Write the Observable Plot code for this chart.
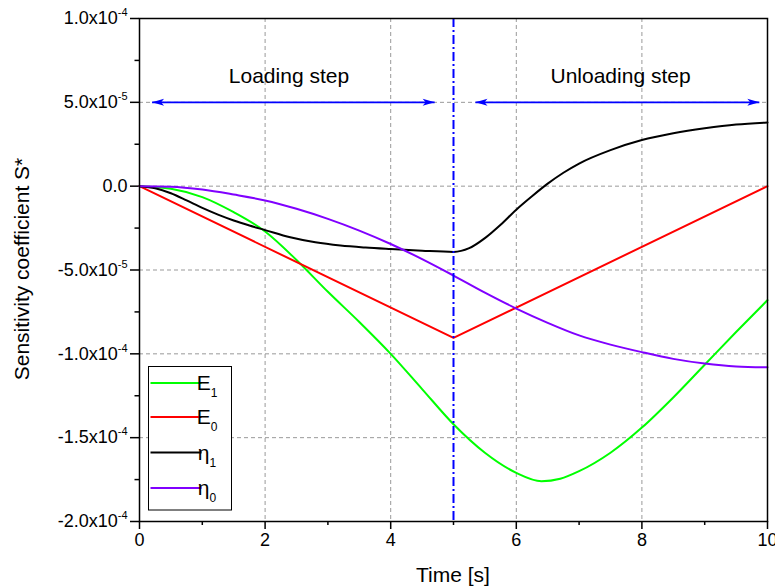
<!DOCTYPE html>
<html>
<head>
<meta charset="utf-8">
<script src="https://cdn.jsdelivr.net/npm/d3@7"></script>
<script src="https://cdn.jsdelivr.net/npm/@observablehq/plot@0.6"></script>
<style>
  body { margin: 0; background: #fff; }
  #chart svg { display: block; }
</style>
</head>
<body>
<div id="chart"></div>
<script>
// ---- data (y values in units of 1e-5) ----
const tE1 = [0, 0.5, 1, 1.5, 2, 2.5, 3, 3.5, 4, 4.5, 5, 5.5, 6, 6.4, 6.7, 7, 7.5, 8, 8.5, 9, 9.5, 10];
const vE1 = [0, -0.15, -0.65, -1.55, -2.7, -4.4, -6.3, -8.1, -10.0, -12.1, -14.2, -15.9, -17.1, -17.6, -17.45, -17.0, -15.9, -14.4, -12.6, -10.65, -8.7, -6.8];

const tE0 = [0, 5, 10];
const vE0 = [0, -9.05, 0];

const tEta1 = [0, 0.25, 0.5, 0.75, 1, 1.25, 1.5, 1.75, 2, 2.4, 2.8, 3.2, 3.6, 4, 4.5, 5, 5.25, 5.5, 5.75, 6, 6.25, 6.5, 6.75, 7, 7.5, 8, 8.5, 9, 9.5, 10];
const vEta1 = [0, -0.12, -0.42, -0.85, -1.3, -1.7, -2.05, -2.35, -2.62, -3.05, -3.35, -3.54, -3.66, -3.75, -3.85, -3.92, -3.7, -3.1, -2.3, -1.4, -0.6, 0.15, 0.8, 1.35, 2.15, 2.75, 3.15, 3.45, 3.68, 3.8];

const tEta0 = [0, 0.5, 1, 1.5, 2, 2.5, 3, 3.5, 4, 4.5, 5, 5.5, 6, 6.5, 7, 7.5, 8, 8.5, 9, 9.5, 10];
const vEta0 = [0, -0.03, -0.2, -0.5, -0.85, -1.35, -1.95, -2.65, -3.45, -4.35, -5.33, -6.35, -7.3, -8.15, -8.9, -9.45, -9.9, -10.3, -10.58, -10.75, -10.8];

const seriesNames = ["E", "E", "η", "η"];
const seriesSubs = ["1", "0", "1", "0"];
const seriesColors = ["#00ff00", "#ff0000", "#000000", "#8000ff"];
const seriesCurves = ["monotone-x", "linear", "monotone-x", "monotone-x"];
const seriesT = [tE1, tE0, tEta1, tEta0];
const seriesV = [vE1, vE0, vEta1, vEta0];

const xTicks = [0, 2, 4, 6, 8, 10];
const xMinor = [1, 3, 5, 7, 9];
const yTicks = [-20, -15, -10, -5, 0, 5, 10];
const yTickLabels = ["-2.0x10^-4", "-1.5x10^-4", "-1.0x10^-4", "-5.0x10^-5", "0.0", "5.0x10^-5", "1.0x10^-4"];
const yMinor = [-17.5, -12.5, -7.5, -2.5, 2.5, 7.5];
const xGrid = [2, 4, 6, 8];
const yGrid = [-15, -10, -5, 0, 5];

const stepTime = 5;
const arrowLevel = 5;
const arrows = [{x1: 0.2, x2: 4.7}, {x1: 5.35, x2: 9.87}];
const annotations = [{x: 2.38, y: 6.55, text: "Loading step"}, {x: 7.66, y: 6.55, text: "Unloading step"}];

const xLabel = "Time [s]";
const yLabel = "Sensitivity coefficient S*";

// ---- build rows ----
const rows = [];
seriesT.forEach((ts, i) => ts.forEach((t, j) => rows.push({series: i, t, v: seriesV[i][j]})));
const heads = [];
arrows.forEach(a => { heads.push({x: a.x1, r: 180}); heads.push({x: a.x2, r: 0}); });

const arrowHead = {
  draw(ctx) {
    ctx.moveTo(0, 0);
    ctx.lineTo(-12, -3.5);
    ctx.lineTo(-9, 0);
    ctx.lineTo(-12, 3.5);
    ctx.closePath();
  }
};

const FONT = "'Liberation Sans', Arial, Helvetica, sans-serif";

const lineMarks = seriesT.map((_, i) =>
  Plot.line(rows.filter(r => r.series === i), {
    x: "t", y: "v", stroke: seriesColors[i], strokeWidth: 2, curve: seriesCurves[i]
  })
);

const chart = Plot.plot({
  width: 775,
  height: 587,
  marginLeft: 139,
  marginRight: 8,
  marginTop: 18,
  marginBottom: 66,
  style: {fontFamily: FONT, background: "#fff", color: "#000"},
  x: {domain: [0, 10]},
  y: {domain: [-20, 10]},
  marks: [
    Plot.gridX({ticks: xGrid, stroke: "#999", strokeOpacity: 1, strokeDasharray: "4,3", strokeWidth: 1}),
    Plot.gridY({ticks: yGrid, stroke: "#999", strokeOpacity: 1, strokeDasharray: "4,3", strokeWidth: 1}),
    Plot.axisX({ticks: xTicks, tickSize: 8, tickPadding: 4, fontSize: 18, label: null, strokeWidth: 1.5, tickFormat: d => String(d)}),
    Plot.axisX({ticks: xMinor, tickSize: 4, fontSize: 1, label: null, strokeWidth: 1.5, tickFormat: () => ""}),
    Plot.axisY({ticks: yTicks, tickSize: 9, tickPadding: 3, fontSize: 18, label: null, strokeWidth: 1.5,
      tickFormat: d => yTickLabels[yTicks.indexOf(d)]}),
    Plot.axisY({ticks: yMinor, tickSize: 4.5, fontSize: 1, label: null, strokeWidth: 1.5, tickFormat: () => ""}),
    ...lineMarks,
    Plot.ruleX([stepTime], {stroke: "#0000ff", strokeWidth: 2, strokeDasharray: "9,3,2,3"}),
    Plot.link(arrows, {x1: "x1", x2: "x2", y1: () => arrowLevel, y2: () => arrowLevel, stroke: "#0000ff", strokeWidth: 1.6}),
    Plot.dot(heads, {x: "x", y: () => arrowLevel, symbol: arrowHead, rotate: "r", fill: "#0000ff", stroke: "none"}),
    Plot.text(annotations, {x: "x", y: "y", text: "text", fontSize: 21, textAnchor: "middle", fill: "#000"}),
    Plot.frame({stroke: "#000", strokeWidth: 1.5})
  ]
});

document.getElementById("chart").appendChild(chart);

const svg = d3.select(chart);

// superscripts in y tick labels
svg.selectAll("text").each(function() {
  const el = d3.select(this);
  const s = this.textContent;
  if (s && s.includes("^") && this.children.length === 0) {
    const [base, sup] = s.split("^");
    this.textContent = "";
    el.append("tspan").text(base);
    el.append("tspan").attr("dy", "-8").attr("font-size", 11).text(sup);
  }
});

// axis titles
svg.append("text")
  .attr("transform", "translate(28.5,269) rotate(-90)")
  .attr("text-anchor", "middle")
  .attr("font-family", FONT).attr("font-size", 21).attr("fill", "#000")
  .text(yLabel);
svg.append("text")
  .attr("x", 453).attr("y", 582)
  .attr("text-anchor", "middle")
  .attr("font-family", FONT).attr("font-size", 21).attr("fill", "#000")
  .text(xLabel);

// legend
const lg = svg.append("g").attr("font-family", FONT);
lg.append("rect")
  .attr("x", 148.5).attr("y", 366.5).attr("width", 83).attr("height", 143.5)
  .attr("fill", "#fff").attr("stroke", "#000").attr("stroke-width", 1);
const legendY = [383, 417, 452.5, 488];
seriesNames.forEach((name, i) => {
  const y = legendY[i];
  lg.append("line").attr("x1", 150.5).attr("x2", 201.5).attr("y1", y).attr("y2", y)
    .attr("stroke", seriesColors[i]).attr("stroke-width", 2);
  const t = lg.append("text").attr("x", 207).attr("y", y + 7).attr("font-size", 21).attr("fill", "#000");
  t.append("tspan").text(name);
  t.append("tspan").attr("dy", 7).attr("font-size", 12).text(seriesSubs[i]);
});
</script>
</body>
</html>
